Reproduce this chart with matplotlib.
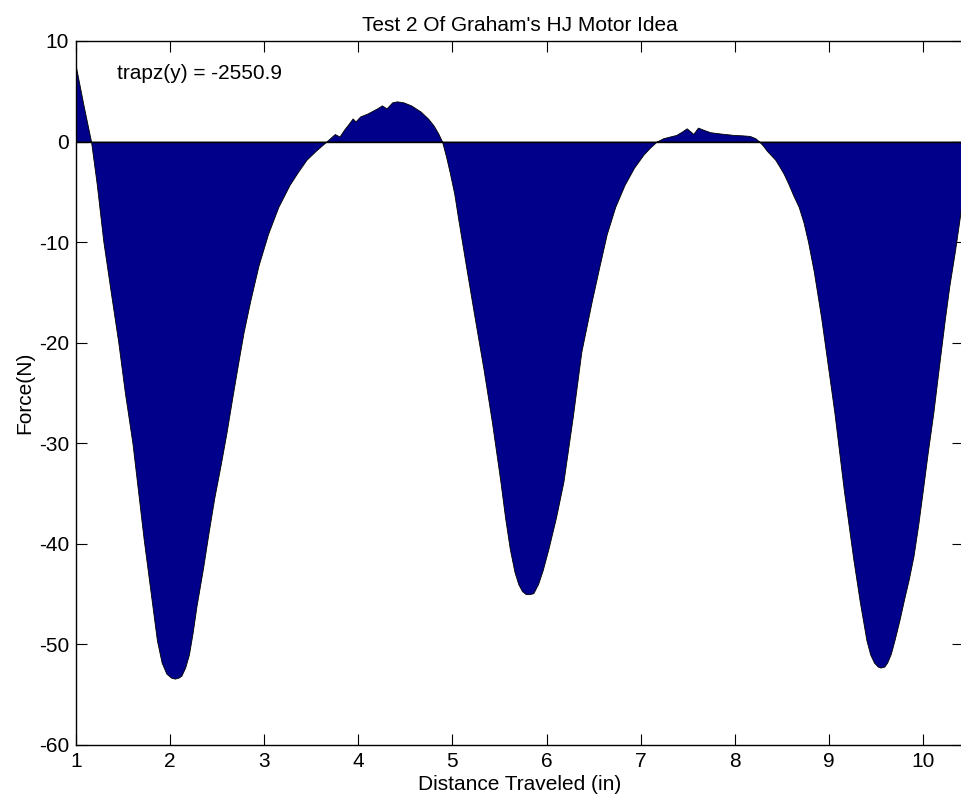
import matplotlib
matplotlib.use("Agg")
import matplotlib.pyplot as plt

plt.rcParams['font.family'] = ['Liberation Sans', 'DejaVu Sans']
plt.rcParams['axes.unicode_minus'] = False

# Distance traveled (in)
distance = [1.00, 1.08, 1.16, 1.22, 1.29, 1.37, 1.45, 1.52, 1.60, 1.66, 1.72, 1.79,
            1.86, 1.91, 1.96, 2.01, 2.05, 2.09, 2.12, 2.16, 2.20, 2.24, 2.28, 2.35,
            2.41, 2.47, 2.54, 2.60, 2.66, 2.72, 2.78, 2.85, 2.94, 3.04, 3.15, 3.27,
            3.36, 3.45, 3.55, 3.66, 3.72, 3.75, 3.80, 3.85, 3.90, 3.94, 3.97, 4.02,
            4.10, 4.20, 4.25, 4.30, 4.36, 4.41, 4.48, 4.56, 4.66, 4.74, 4.80, 4.85,
            4.89, 4.93, 4.97, 5.02, 5.06, 5.15, 5.24, 5.33, 5.42, 5.51, 5.56, 5.61,
            5.66, 5.70, 5.74, 5.78, 5.82, 5.86, 5.91, 5.96, 6.02, 6.10, 6.18, 6.28,
            6.37, 6.48, 6.56, 6.64, 6.73, 6.83, 6.93, 7.03, 7.10, 7.17, 7.24, 7.31,
            7.38, 7.44, 7.49, 7.53, 7.56, 7.61, 7.66, 7.74, 7.85, 7.99, 8.08, 8.16,
            8.22, 8.26, 8.30, 8.34, 8.38, 8.43, 8.47, 8.52, 8.57, 8.62, 8.68, 8.73,
            8.78, 8.84, 8.92, 8.99, 9.06, 9.16, 9.26, 9.33, 9.40, 9.44, 9.48, 9.52,
            9.55, 9.59, 9.62, 9.66, 9.70, 9.75, 9.80, 9.85, 9.90, 9.95, 10.00, 10.05,
            10.11, 10.17, 10.23, 10.28, 10.34, 10.38, 10.43]

# Force (N)
force = [7.4, 3.6, 0.0, -4.2, -9.9, -15.0, -20.0, -25.0, -30.0, -34.8, -39.6, -44.6,
         -49.6, -51.8, -52.9, -53.3, -53.4, -53.3, -53.1, -52.3, -51.0, -48.8, -46.2, -42.4,
         -38.8, -35.4, -32.0, -28.9, -25.5, -22.2, -19.0, -15.9, -12.3, -9.2, -6.5, -4.3,
         -3.0, -1.8, -0.9, 0.0, 0.5, 0.75, 0.5, 1.2, 1.8, 2.3, 2.0, 2.5,
         2.8, 3.3, 3.6, 3.3, 3.9, 4.0, 3.9, 3.6, 3.0, 2.3, 1.6, 0.8,
         0.0, -1.4, -3.0, -5.2, -7.6, -12.7, -17.7, -22.6, -27.9, -33.8, -37.4, -40.5,
         -42.8, -44.0, -44.7, -45.0, -45.0, -44.9, -44.0, -42.6, -40.5, -37.4, -33.8, -27.3,
         -20.9, -15.9, -12.5, -9.2, -6.5, -4.3, -2.6, -1.3, -0.6, 0.0, 0.33, 0.5,
         0.66, 1.0, 1.32, 1.0, 0.76, 1.39, 1.2, 0.93, 0.8, 0.66, 0.62, 0.56,
         0.33, 0.0, -0.4, -0.9, -1.3, -1.8, -2.4, -3.2, -4.2, -5.3, -6.5, -8.0,
         -10.0, -12.9, -17.6, -22.3, -27.0, -34.7, -41.5, -45.8, -49.6, -51.0, -51.8, -52.2,
         -52.3, -52.2, -51.8, -50.9, -49.5, -47.6, -45.5, -43.5, -41.2, -38.1, -34.6, -31.0,
         -27.0, -22.4, -17.9, -14.4, -10.9, -8.3, -5.0]

x_ticks = [1, 2, 3, 4, 5, 6, 7, 8, 9, 10]
y_ticks = [-60, -50, -40, -30, -20, -10, 0, 10]
title_text = "Test 2 Of Graham's HJ Motor Idea"
annotation = "trapz(y) = -2550.9"

W, H = 961, 799
fig = plt.figure(figsize=(W / 100, H / 100), dpi=100)
ax = fig.add_axes([76 / W, (H - 745) / H, (963 - 76) / W, (745 - 41) / H])

ax.fill_between(distance, force, 0, facecolor='#00008A', edgecolor='black',
                linewidth=0.6, zorder=2)
ax.axhline(0, color='black', linewidth=1.0, zorder=3)

ax.set_xlim(1, 10.426)
ax.set_ylim(-60, 10)
ax.set_xticks(x_ticks)
ax.set_yticks(y_ticks)
ax.tick_params(direction='in', length=8, width=0.8, top=True, right=True,
               labelsize=15, colors='black')
ax.tick_params(axis='y', pad=5)
ax.tick_params(axis='x', pad=5)
for s in ax.spines.values():
    s.set_linewidth(1.0)

ax.set_title(title_text, fontsize=15, pad=7)
ax.set_xlabel("Distance Traveled (in)", fontsize=15, labelpad=3)
ax.set_ylabel("Force(N)", fontsize=15, labelpad=3)
ax.text(1.44, 6.75, annotation, fontsize=15, ha='left', va='center')

fig.savefig("out.png", dpi=100)
